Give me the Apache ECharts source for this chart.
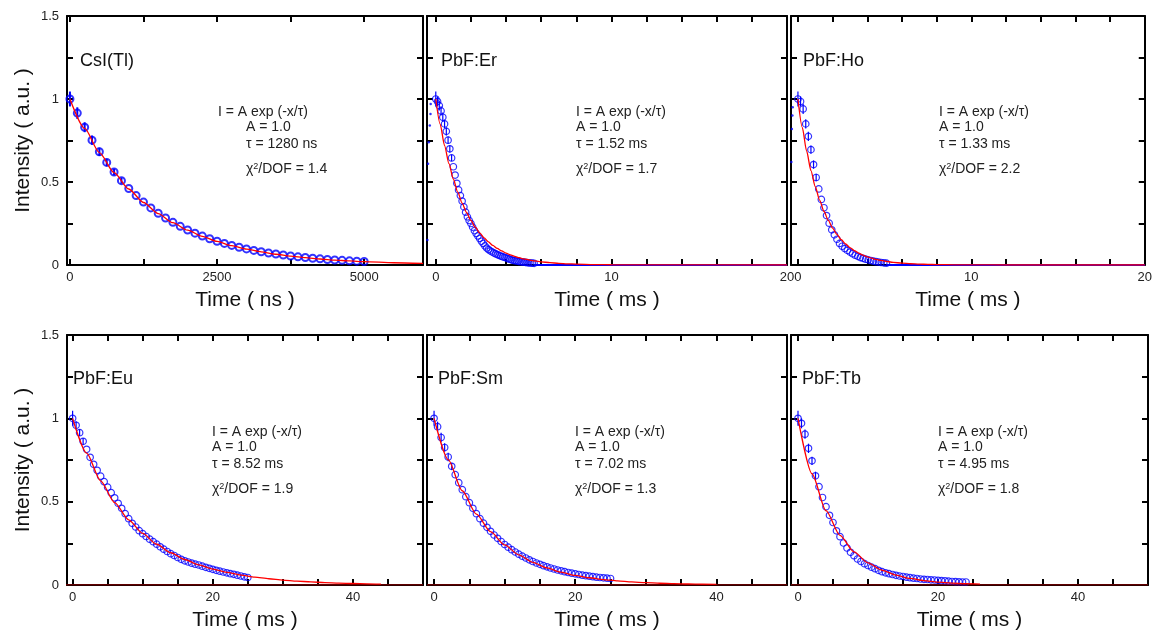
<!DOCTYPE html>
<html><head><meta charset="utf-8">
<script src="https://cdn.jsdelivr.net/npm/echarts@6/dist/echarts.min.js"></script>
<style>html,body{margin:0;padding:0;background:#fff}#c{width:1155px;height:635px}</style>
</head><body><div id="c"></div>
<script>
// ---------- data ----------
const csiT = [0,125,250,375,500,625,750,875,1000,1125,1250,1375,1500,1625,1750,1875,2000,2125,2250,2375,2500,2625,2750,2875,3000,3125,3250,3375,3500,3625,3750,3875,4000,4125,4250,4375,4500,4625,4750,4875,5000];
const csiV = [1.000,0.915,0.830,0.752,0.682,0.618,0.560,0.508,0.461,0.418,0.379,0.344,0.312,0.283,0.257,0.233,0.211,0.192,0.174,0.158,0.143,0.130,0.118,0.107,0.097,0.088,0.080,0.072,0.066,0.060,0.054,0.049,0.045,0.041,0.037,0.033,0.030,0.028,0.025,0.023,0.021];
const csiErr = [0.045,0.035,0.03,0.028,0.025,0.022,0.02,0.018];
const csiFitT = [0,250,500,750,1000,1250,1500,1750,2000,2250,2500,2750,3000,3250,3500,3750,4000,4250,4500,4750,5000,5500,6000];
const csiFitV = [1,0.8226,0.6767,0.5566,0.4579,0.3766,0.3098,0.2548,0.2096,0.1724,0.1418,0.1167,0.0960,0.0789,0.0649,0.0534,0.0439,0.0362,0.0297,0.0245,0.0201,0.0136,0.0092];

const erT = [0,0.1,0.2,0.3,0.4,0.5,0.6,0.7,0.8,0.9,1.0,1.1,1.2,1.3,1.4,1.5,1.6,1.7,1.8,1.9,2.0,2.1,2.2,2.3,2.4,2.5,2.6,2.7,2.8,2.9,3.0,3.1,3.2,3.3,3.4,3.5,3.6,3.7,3.8,3.9,4.0,4.1,4.2,4.3,4.4,4.5,4.6,4.7,4.8,4.9,5.0,5.1,5.2,5.3,5.4,5.5,5.6];
const erV = [1.000,0.985,0.960,0.928,0.890,0.850,0.805,0.752,0.700,0.645,0.592,0.542,0.492,0.452,0.418,0.385,0.350,0.318,0.290,0.268,0.250,0.228,0.207,0.190,0.175,0.160,0.143,0.130,0.115,0.102,0.093,0.085,0.079,0.073,0.068,0.063,0.058,0.054,0.050,0.046,0.043,0.039,0.035,0.031,0.028,0.026,0.024,0.022,0.020,0.019,0.017,0.016,0.014,0.013,0.012,0.011,0.010];
const erErr = [0.045,0.03,0.03,0.028,0.028,0.025,0.025,0.022,0.022,0.02];
const erPreT = [-0.48,-0.44,-0.40,-0.34,-0.30,-0.29];
const erPreV = [0.15,0.61,0.74,0.84,0.91,0.97];
const erTailT = [5.6,20];
const erTailV = [0,0];
const erFitT = [0,0.25,0.5,0.75,1,1.25,1.5,1.75,2,2.25,2.5,2.75,3,3.25,3.5,3.75,4,4.25,4.5,4.75,5,5.5,6,6.5,7,7.5,8,9,10,12,20];
const erFitV = [1,0.8483,0.7197,0.6105,0.518,0.4394,0.3728,0.3162,0.2683,0.2276,0.1931,0.1638,0.1389,0.1179,0.1000,0.0848,0.0720,0.0610,0.0518,0.0439,0.0373,0.0268,0.0193,0.0139,0.0100,0.0072,0.0052,0.0027,0.0014,0.0004,0];

const hoT = [0,0.15,0.3,0.45,0.6,0.75,0.9,1.05,1.2,1.35,1.5,1.65,1.8,1.95,2.1,2.25,2.4,2.55,2.7,2.85,3.0,3.15,3.3,3.45,3.6,3.75,3.9,4.05,4.2,4.35,4.5,4.65,4.8,4.95,5.1];
const hoV = [1.000,0.985,0.940,0.850,0.775,0.695,0.605,0.527,0.458,0.395,0.345,0.298,0.252,0.212,0.182,0.155,0.130,0.113,0.099,0.088,0.078,0.068,0.059,0.052,0.045,0.040,0.035,0.031,0.027,0.023,0.020,0.018,0.015,0.013,0.011];
const hoErr = [0.045,0.03,0.03,0.028,0.028,0.025,0.025,0.022];
const hoPreT = [-0.38,-0.35,-0.32,-0.30];
const hoPreV = [0.62,0.82,0.90,0.95];
const hoTailT = [5.1,20];
const hoTailV = [0,0];
const hoFitT = [0,0.25,0.5,0.75,1,1.25,1.5,1.75,2,2.25,2.5,2.75,3,3.25,3.5,3.75,4,4.25,4.5,4.75,5,5.5,6,6.5,7,7.5,8,9,10,12,20];
const hoFitV = [1,0.8286,0.6866,0.5690,0.4715,0.3907,0.3237,0.2683,0.2223,0.1842,0.1526,0.1265,0.1048,0.0868,0.0720,0.0596,0.0494,0.0409,0.0339,0.0281,0.0233,0.0160,0.0110,0.0075,0.0052,0.0036,0.0024,0.0012,0.0005,0.0001,0];

const halfT = [0,0.5,1,1.5,2,2.5,3,3.5,4,4.5,5,5.5,6,6.5,7,7.5,8,8.5,9,9.5,10,10.5,11,11.5,12,12.5,13,13.5,14,14.5,15,15.5,16,16.5,17,17.5,18,18.5,19,19.5,20,20.5,21,21.5,22,22.5,23,23.5,24,24.5,25];
const euV = [1.000,0.958,0.914,0.862,0.814,0.766,0.724,0.688,0.653,0.620,0.587,0.554,0.523,0.490,0.460,0.428,0.398,0.370,0.348,0.326,0.308,0.291,0.275,0.260,0.245,0.229,0.215,0.201,0.188,0.177,0.165,0.154,0.145,0.138,0.131,0.125,0.120,0.113,0.106,0.100,0.094,0.088,0.083,0.078,0.073,0.068,0.064,0.059,0.054,0.049,0.045];
const euErr = [0.045,0.025,0.02,0.02];
const euFitT = [0,2,4,6,8,10,12,14,16,18,20,22,24,26,28,30,32,34,36,38,40,42,44];
const euFitV = [1,0.7908,0.6253,0.4945,0.391,0.3092,0.2445,0.1934,0.1529,0.1209,0.0956,0.0756,0.0598,0.0473,0.0374,0.0296,0.0234,0.0185,0.0146,0.0116,0.0091,0.0072,0.0057];

const smV = [1.000,0.950,0.885,0.825,0.768,0.712,0.662,0.614,0.572,0.530,0.494,0.460,0.428,0.398,0.371,0.346,0.322,0.300,0.280,0.261,0.243,0.227,0.212,0.198,0.185,0.173,0.162,0.151,0.141,0.132,0.124,0.116,0.109,0.102,0.096,0.090,0.085,0.080,0.075,0.071,0.067,0.063,0.059,0.056,0.053,0.050,0.047,0.045,0.043,0.041,0.039];
const smErr = [0.045,0.03,0.028,0.025,0.025,0.022];
const smFitT = [0,2,4,6,8,10,12,14,16,18,20,22,24,26,28,30,32,34,36,38,40];
const smFitV = [1,0.7521,0.5656,0.4254,0.3199,0.2406,0.1809,0.1361,0.1023,0.0770,0.0579,0.0435,0.0327,0.0246,0.0185,0.0139,0.0105,0.0079,0.0059,0.0045,0.0034];

const tbV = [1.000,0.970,0.905,0.820,0.745,0.655,0.590,0.525,0.470,0.418,0.375,0.325,0.290,0.252,0.222,0.196,0.176,0.156,0.141,0.128,0.117,0.107,0.098,0.088,0.080,0.073,0.068,0.063,0.058,0.054,0.051,0.047,0.044,0.041,0.039,0.036,0.034,0.033,0.031,0.030,0.028,0.026,0.025,0.023,0.021,0.020,0.019,0.018,0.018];
const tbErr = [0.045,0.03,0.028,0.028,0.025,0.025];
const tbFitT = [0,2,4,6,8,10,12,14,16,18,20,22,24,26];
const tbFitV = [1,0.6676,0.4457,0.2976,0.1987,0.1326,0.0886,0.0591,0.0395,0.0264,0.0176,0.0117,0.0078,0.0052];

const zeroT = [-1,50];
const zeroV = [0,0];

const yTicks = [0,0.25,0.5,0.75,1,1.25,1.5];
const yLabels = [0,0.5,1,1.5];

const panels = [
  {title:'CsI(Tl)', unit:'ns', tau:'1280 ns', chi:'1.4', min:-50, max:6000, ticks:[0,1250,2500,3750,5000], labels:[0,2500,5000],
   t:csiT, v:csiV, err:csiErr, fitT:csiFitT, fitV:csiFitV, bold:true},
  {title:'PbF:Er', unit:'ms', tau:'1.52 ms', chi:'1.7', min:-0.5, max:20, ticks:[0,2,4,6,8,10,12,14,16,18,20], labels:[0,10,20],
   t:erT, v:erV, err:erErr, fitT:erFitT, fitV:erFitV, preT:erPreT, preV:erPreV, tailT:erTailT, tailV:erTailV},
  {title:'PbF:Ho', unit:'ms', tau:'1.33 ms', chi:'2.2', min:-0.4, max:20, ticks:[0,2,4,6,8,10,12,14,16,18,20], labels:[0,10,20],
   t:hoT, v:hoV, err:hoErr, fitT:hoFitT, fitV:hoFitV, preT:hoPreT, preV:hoPreV, tailT:hoTailT, tailV:hoTailV},
  {title:'PbF:Eu', unit:'ms', tau:'8.52 ms', chi:'1.9', min:-0.8, max:50, ticks:[0,5,10,15,20,25,30,35,40,45], labels:[0,20,40],
   t:halfT, v:euV, err:euErr, fitT:euFitT, fitV:euFitV, zero:true},
  {title:'PbF:Sm', unit:'ms', tau:'7.02 ms', chi:'1.3', min:-1, max:50, ticks:[0,5,10,15,20,25,30,35,40,45], labels:[0,20,40],
   t:halfT, v:smV, err:smErr, fitT:smFitT, fitV:smFitV, zero:true},
  {title:'PbF:Tb', unit:'ms', tau:'4.95 ms', chi:'1.8', min:-1, max:50, ticks:[0,5,10,15,20,25,30,35,40,45], labels:[0,20,40],
   t:halfT, v:tbV, err:tbErr, fitT:tbFitT, fitV:tbFitV, zero:true}
];

// ---------- layout ----------
const G = [
  {l:67,t:16,w:356,h:249},{l:427,t:16,w:360,h:249},{l:791,t:16,w:357,h:249},
  {l:67,t:335,w:356,h:250},{l:427,t:335,w:360,h:250},{l:791,t:335,w:357,h:250}
];
const annX = [[218,246],[576,576],[939,939],[212,212],[575,575],[938,938]];
const titleX = [80,441,803,73,438,802];
const FONT = "'Liberation Sans', Arial, Helvetica, sans-serif";

function pairs(t,v){ return v.map((y,i)=>[t[i],y]); }
const plain = (v)=>String(v);

const grid=[], xAxis=[], yAxis=[], series=[], graphic=[];
const axisLineStyle = {show:true, onZero:false, lineStyle:{color:'#000', width:2}};
const tickStyle = (vals)=>({show:true, inside:true, length:6, customValues:vals, lineStyle:{color:'#000', width:2}});

panels.forEach((p,i)=>{
  const g=G[i];
  grid.push({left:g.l, top:g.t, width:g.w, height:g.h, containLabel:false});
  const leftCol = (i%3===0);
  xAxis.push({type:'value', gridIndex:i, min:p.min, max:p.max, position:'bottom',
    axisLine:axisLineStyle, axisTick:tickStyle(p.ticks), splitLine:{show:false},
    axisLabel:{show:true, customValues:p.labels, formatter:plain, fontSize:13, color:'#222', margin:6, fontFamily:FONT},
    name:'Time ( '+p.unit+' )', nameLocation:'middle', nameGap:25,
    nameTextStyle:{fontSize:21, color:'#111', fontFamily:FONT}});
  xAxis.push({type:'value', gridIndex:i, min:p.min, max:p.max, position:'top',
    axisLine:axisLineStyle, axisTick:tickStyle(p.ticks), axisLabel:{show:false}, splitLine:{show:false}});
  const yl = {type:'value', gridIndex:i, min:0, max:1.5, position:'left',
    axisLine:axisLineStyle, axisTick:tickStyle(yTicks), splitLine:{show:false},
    axisLabel:{show:leftCol, customValues:yLabels, formatter:plain, fontSize:13, color:'#222', margin:8, fontFamily:FONT}};
  if(leftCol){ Object.assign(yl,{name:'Intensity ( a.u. )', nameLocation:'middle', nameGap:33, nameRotate:90,
    nameTextStyle:{fontSize:21, color:'#111', fontFamily:FONT}}); }
  yAxis.push(yl);
  yAxis.push({type:'value', gridIndex:i, min:0, max:1.5, position:'right',
    axisLine:axisLineStyle, axisTick:tickStyle(yTicks), axisLabel:{show:false}, splitLine:{show:false}});

  const xi=2*i, yi=2*i;
  if(p.zero){
    series.push({type:'line', xAxisIndex:xi, yAxisIndex:yi, data:pairs(zeroT,zeroV), showSymbol:false,
      lineStyle:{color:'#c00000', width:1.2}, z:6, silent:true});
  }
  if(p.tailT){
    series.push({type:'line', xAxisIndex:xi, yAxisIndex:yi, data:pairs(p.tailT,p.tailV), showSymbol:false,
      lineStyle:{color:'#0000ff', width:2}, z:3, silent:true});
  }
  series.push({type:'custom', xAxisIndex:xi, yAxisIndex:yi, z:3, silent:true,
    data:p.err.map((e,k)=>[p.t[k],p.v[k],e]), encode:{x:0,y:1},
    renderItem:(params,api)=>{
      const x=api.value(0), y=api.value(1), e=api.value(2);
      const a=api.coord([x,y+e]), b=api.coord([x,y-e]);
      return {type:'line', shape:{x1:a[0],y1:a[1],x2:b[0],y2:b[1]}, style:{stroke:'#0000ff', lineWidth:p.bold?2:1.2}};
    }});
  if(p.preT){
    series.push({type:'scatter', xAxisIndex:xi, yAxisIndex:yi, data:pairs(p.preT,p.preV), symbol:'circle',
      symbolSize:2.5, itemStyle:{color:'#0000ff'}, z:3, silent:true});
  }
  series.push({type:'scatter', xAxisIndex:xi, yAxisIndex:yi, data:pairs(p.t,p.v), symbol:'circle',
    symbolSize:p.bold?7:6.5, itemStyle:{color:'rgba(0,0,0,0)', borderColor:'#0000ff', borderWidth:p.bold?2:1.2}, z:4, silent:true});
  series.push({type:'line', xAxisIndex:xi, yAxisIndex:yi, data:pairs(p.fitT,p.fitV), showSymbol:false,
    smooth:0.25, smoothMonotone:'x', lineStyle:{color:'#ff0000', width:1.3}, z:5, silent:true});

  const dy = (i<3)?0:320;
  graphic.push({type:'text', x:titleX[i], y:(i<3?61:379), style:{text:p.title, font:'18px '+FONT, fill:'#111', verticalAlign:'middle', align:'left'}});
  const ax=annX[i];
  const lines=[['I = A exp (-x/τ)',ax[0],112],['A = 1.0',ax[1],127.5],['τ = '+p.tau,ax[1],144.5],['χ{s|2}/DOF = '+p.chi,ax[1],169]];
  lines.forEach(L=>{
    graphic.push({type:'text', x:L[1], y:L[2]+dy, style:{text:L[0], font:'14px '+FONT, fill:'#222', verticalAlign:'middle', align:'left',
      rich:{s:{fontSize:9, fontFamily:FONT, fill:'#222', verticalAlign:'top', lineHeight:9, padding:[0,0,6,0]}}}});
  });
});

const chart = echarts.init(document.getElementById('c'), null, {renderer:'canvas'});
chart.setOption({animation:false, backgroundColor:'#fff', grid, xAxis, yAxis, series, graphic});
</script></body></html>
